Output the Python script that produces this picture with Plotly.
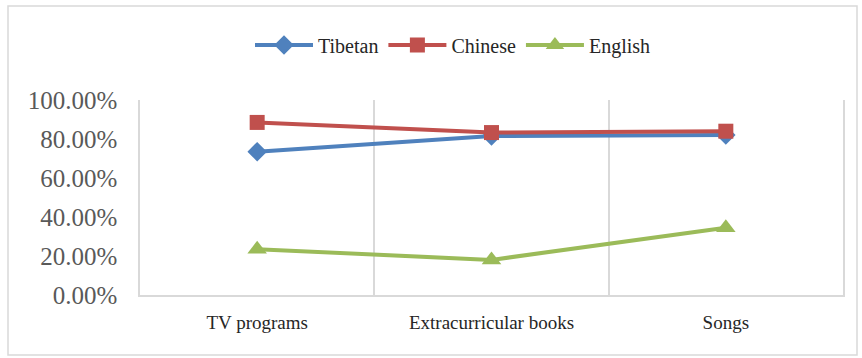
import plotly.graph_objects as go

categories = ["TV programs", "Extracurricular books", "Songs"]
tibetan = [0.735, 0.815, 0.82]
chinese = [0.885, 0.833, 0.84]
english = [0.235, 0.18, 0.345]
y_ticks = [0, 0.2, 0.4, 0.6, 0.8, 1.0]
y_tick_labels = ["0.00%", "20.00%", "40.00%", "60.00%", "80.00%", "100.00%"]

W, H = 862, 358
SERIF = "Liberation Serif"
fig = go.Figure()
series = [
    ("Tibetan", tibetan, "#4F81BD", "diamond", 15),
    ("Chinese", chinese, "#C0504D", "square", 15),
    ("English", english, "#9BBB59", "triangle-up", 17),
]
for name, vals, col, sym, sz in series:
    fig.add_trace(go.Scatter(
        x=categories, y=vals, name=name, mode="lines+markers",
        line=dict(color=col, width=4),
        marker=dict(color=col, symbol=sym, size=sz, line=dict(width=0)),
    ))

fig.update_layout(
    width=W, height=H,
    margin=dict(l=0, r=0, t=0, b=0),
    paper_bgcolor="white", plot_bgcolor="white",
    font=dict(family=SERIF, color="#262626"),
    showlegend=True,
    legend=dict(
        orientation="h", x=453 / W, xanchor="center", y=1 - 45 / H, yanchor="middle",
        font=dict(family=SERIF, size=20, color="#262626"), itemwidth=58, tracegroupgap=0,
        bgcolor="rgba(0,0,0,0)",
    ),
    xaxis=dict(
        domain=[140 / W, 843 / W], range=[-0.5, 2.5], type="category",
        tickson="boundaries", showgrid=True, gridcolor="#D9D9D9", gridwidth=1.5,
        showline=True, linecolor="#D9D9D9", linewidth=1.5,
        ticks="", tickfont=dict(family=SERIF, size=19, color="#262626"), ticklabelstandoff=9,
        automargin=False, zeroline=False,
    ),
    yaxis=dict(
        domain=[(H - 295) / H, (H - 100) / H], range=[0, 1],
        tickvals=y_ticks, ticktext=y_tick_labels, showgrid=False,
        showline=True, mirror=True, linecolor="#D9D9D9", linewidth=1.5,
        ticks="", tickfont=dict(family=SERIF, size=25, color="#595959"), ticklabelstandoff=16,
        automargin=False, zeroline=False,
    ),
    shapes=[dict(
        type="rect", xref="paper", yref="paper",
        x0=8 / W, x1=857 / W, y0=(H - 355) / H, y1=(H - 6) / H,
        line=dict(color="#D9D9D9", width=1.5), fillcolor="rgba(0,0,0,0)", layer="below",
    )],
)

fig.write_html("out.html")
